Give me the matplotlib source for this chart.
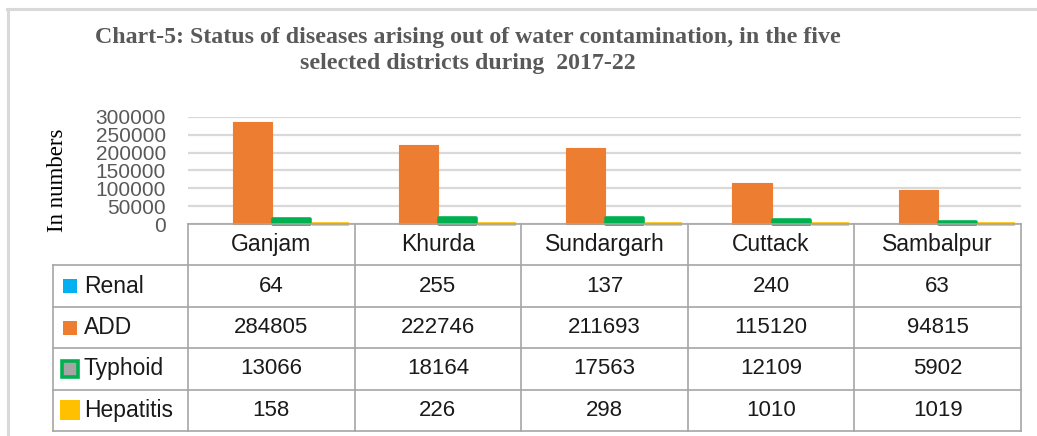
import matplotlib
matplotlib.use("Agg")
import matplotlib.pyplot as plt
from matplotlib.lines import Line2D
import numpy as np

# data
districts = ["Ganjam", "Khurda", "Sundargarh", "Cuttack", "Sambalpur"]
diseases = ["Renal", "ADD", "Typhoid", "Hepatitis"]
renal = [64, 255, 137, 240, 63]
add = [284805, 222746, 211693, 115120, 94815]
typhoid = [13066, 18164, 17563, 12109, 5902]
hepatitis = [158, 226, 298, 1010, 1019]
yticks = [0, 50000, 100000, 150000, 200000, 250000, 300000]

series = [renal, add, typhoid, hepatitis]
colors = ["#00B0F0", "#ED7D31", "#00B050", "#FFC000"]

W, H = 1037, 436
fig = plt.figure(figsize=(W / 100, H / 100), dpi=100)
fig.patch.set_facecolor("white")


def box(l, t, r, b):
    return [l / W, 1 - b / H, (r - l) / W, (b - t) / H]


# outer frame (only top and left visible)
fig.add_artist(Line2D([7 / W, 1], [1 - 9 / H] * 2, color="#D9D9D9", lw=2.2))
fig.add_artist(Line2D([8 / W] * 2, [0, 1 - 9 / H], color="#D9D9D9", lw=2.2))

# title
fig.text(468 / W, 1 - 37 / H,
         "Chart-5: Status of diseases arising out of water contamination, in the five",
         ha="center", va="center", fontsize=17.2, fontweight="bold",
         family="Liberation Serif", color="#595959")
fig.text(468 / W, 1 - 63 / H, "selected districts during  2017-22",
         ha="center", va="center", fontsize=17.2, fontweight="bold",
         family="Liberation Serif", color="#595959")

# bar chart
ax = fig.add_axes(box(188, 117, 1021, 224))
x = np.arange(len(districts))
bw = 0.235
offsets = [0.15, 0.385, 0.62, 0.855]
edge_w = [0, 0.8, 2.6, 2.6]
for vals, col, off, ew in zip(series, colors, offsets, edge_w):
    bars = ax.bar(x + off, vals, width=bw - 0.012 * (ew > 1), color=col,
                  edgecolor=col, lw=ew, zorder=3, clip_on=False)
    for b in bars:
        b.set_joinstyle("round")
ax.set_xlim(0, 5)
ax.set_ylim(0, 300000)
ax.set_yticks(yticks)
ax.set_yticklabels([str(v) for v in yticks], family="Liberation Sans",
                   fontsize=15, color="#595959")
ax.tick_params(axis="y", length=0, pad=16)
ax.tick_params(axis="x", length=0, labelbottom=False)
ax.grid(axis="y", color="#D9D9D9", lw=1.6, zorder=0)
for s in ax.spines.values():
    s.set_visible(False)
ax.patch.set_alpha(0)
ax.set_ylabel("In numbers", family="Liberation Serif", fontsize=16.5,
              color="black")
ax.yaxis.set_label_coords(-(188 - 68) / (1021 - 188), 0.41)

# data table
cw = (1021 - 188) / 5
left = -(188 - 53) / cw
tx = fig.add_axes(box(53, 224, 1021, 431))
tx.set_xlim(left, 5)
tx.set_ylim(5, 0)
tx.axis("off")
lc = "#A6A6A6"
tx.plot([0, 5], [0, 0], color=lc, lw=1.2, clip_on=False, zorder=4)
for r in range(1, 6):
    tx.plot([left, 5], [r, r], color=lc, lw=1.2, clip_on=False)
for c in range(6):
    tx.plot([c, c], [0, 5], color=lc, lw=1.2, clip_on=False)
tx.plot([left, left], [1, 5], color=lc, lw=1.2, clip_on=False)

for i, d in enumerate(districts):
    tx.text(i + 0.5, 0.5, d, ha="center", va="center", fontsize=16.5,
            family="Liberation Sans", color="#1A1A1A")

mx = (70 - 188) / cw
lx = (84 - 188) / cw
marker_kw = [
    dict(marker="s", ms=10, mfc=colors[0], mec=colors[0], mew=0),
    dict(marker="s", ms=10, mfc=colors[1], mec=colors[1], mew=0),
    dict(marker="s", ms=12, mfc="#A5A5A5", mec=colors[2], mew=2.6),
    dict(marker="s", ms=15, mfc=colors[3], mec=colors[3], mew=0),
]
for r, (name, vals, mk) in enumerate(zip(diseases, series, marker_kw)):
    yy = r + 1.5
    tx.plot([mx], [yy], ls="none", clip_on=False, **mk)
    tx.text(lx, yy, name, ha="left", va="center", fontsize=16.5,
            family="Liberation Sans", color="#1A1A1A")
    for i, v in enumerate(vals):
        tx.text(i + 0.5, yy, str(v), ha="center", va="center", fontsize=16,
                family="Liberation Sans", color="#1A1A1A")

fig.savefig("out.png", dpi=100, facecolor="white")
